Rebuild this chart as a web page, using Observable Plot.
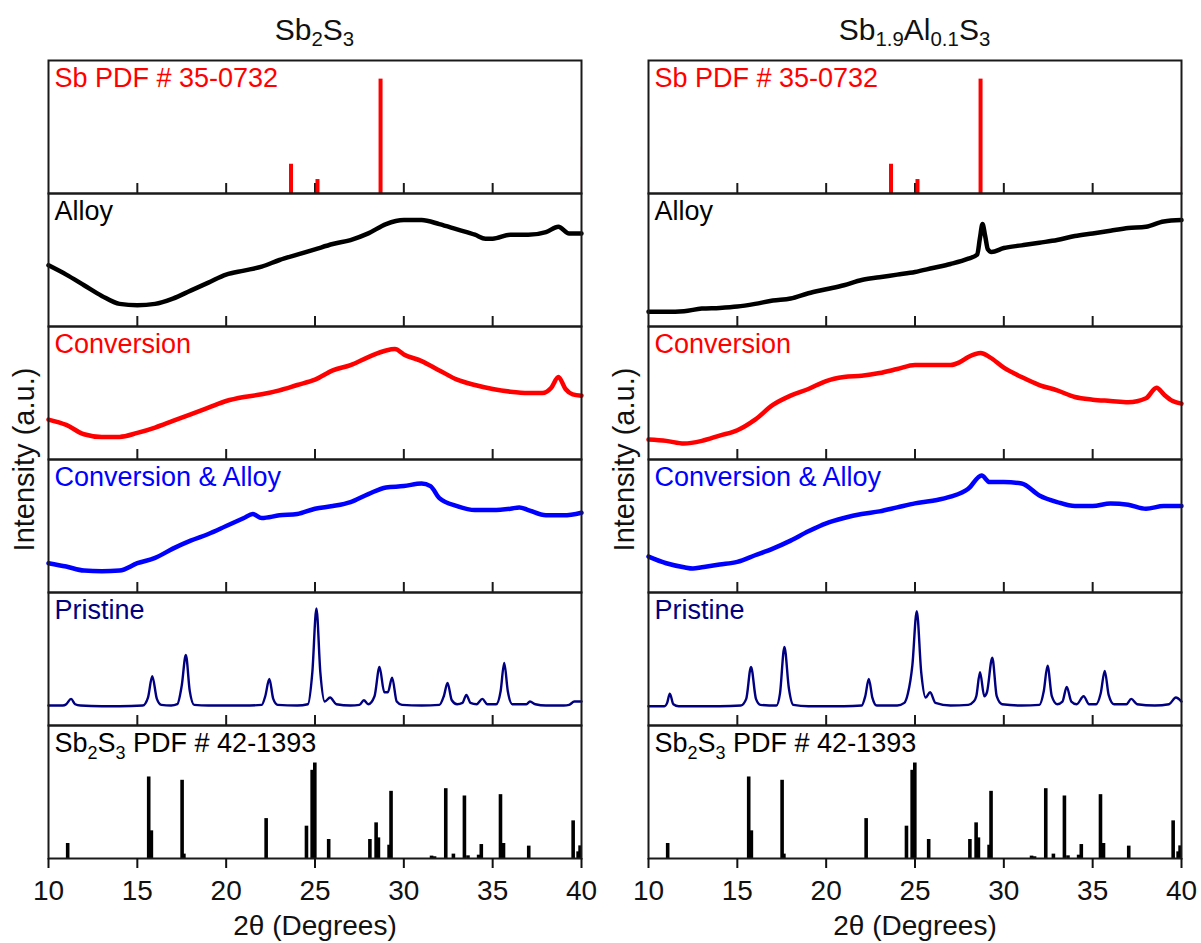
<!DOCTYPE html>
<html>
<head>
<meta charset="utf-8">
<script src="https://cdn.jsdelivr.net/npm/d3@7"></script>
<script src="https://cdn.jsdelivr.net/npm/@observablehq/plot@0.6"></script>
<style>
  body { margin: 0; background: #fff; font-family: "Liberation Sans", Arial, sans-serif; }
  #wrap { position: relative; width: 1201px; height: 943px; overflow: hidden; }
  .col { position: absolute; top: 0; width: 600px; height: 943px; }
  .title { position: absolute; left: 48px; width: 533px; top: 14px; text-align: center;
           font-size: 30px; line-height: 32px; color: #111; }
  .title sub { font-size: 0.68em; vertical-align: -0.3em; line-height: 0; }
  .col svg { position: absolute; top: 50px; left: 0; }
</style>
</head>
<body>
<div id="wrap"></div>
<script>
// ---------------- data ----------------
const degTicks = [10, 15, 20, 25, 30, 35, 40];
const innerTicks = [15, 20, 25, 30, 35];
const panels = ["sbpdf", "alloy", "conversion", "convalloy", "pristine", "sb2s3pdf"];
const panelLabels = ["Sb PDF # 35-0732", "Alloy", "Conversion", "Conversion & Alloy", "Pristine", "Sb2S3 PDF # 42-1393"];
const panelColors = ["#ff0000", "#000000", "#ff0000", "#0000ff", "#000080", "#000000"];
const columnTitles = ["Sb<sub>2</sub>S<sub>3</sub>", "Sb<sub>1.9</sub>Al<sub>0.1</sub>S<sub>3</sub>"];

// reference patterns (relative intensity, % of panel height)
const sbPdfTheta = [23.65, 25.14, 28.69, 40.08];
const sbPdfInt = [22, 10.5, 86, 35];
const sb2s3PdfTheta = [11.08, 15.64, 15.79, 17.52, 17.62, 22.25, 24.52, 24.84, 24.99, 25.77, 28.09, 28.44, 28.57, 29.17, 29.28,
  31.56, 31.73, 32.36, 32.79, 33.41, 33.61, 34.21, 34.36, 35.44, 35.61, 37.03, 39.53, 39.81, 39.92];
const sb2s3PdfInt = [11.3, 61.3, 20.8, 58.8, 3.3, 30, 24.3, 66.3, 71.8, 14.3, 14.3, 26.8, 15.5, 10, 50.5,
  1.8, 1.3, 52.5, 3.3, 47, 2, 2.5, 10.5, 48, 11.3, 9.3, 28.3, 5, 9.5];

// Sb2S3 column (2θ, intensity as % of panel height)
const leftAlloy = [[10,46],[11,39],[12,31],[13,23],[14,17],[15,16],[16,17],[17,21],[18,27],[19,33],[20,39],[21,42],[22,45],[23,50],
  [24,54],[25,58],[26,62],[27,65],[28,70],[29,77],[30,80],[31,80],[32,77],[33,73],[34,69],[34.6,66],[35,66],[36,69],[37,69],[38,71],[38.7,75],[39.3,70],[40,70]];
const leftConversion = [[10,30],[11,26],[12,19],[13,17],[14,17],[15,20],[16,24],[17,29],[18,34],[19,39],[20,44],[21,47],[22,49],[23,52],
  [24,56],[25,60],[26,67],[27,71],[28,77],[29,82],[29.5,83],[30,79],[31,74],[32,67],[33,60],[34,56],[35,53],[36,51],[37,50],[37.8,50],
  [38.3,54],[38.7,62],[39.1,53],[39.5,49],[40,48]];
const leftConvAlloy = [[10,22],[11,19.5],[12,16.5],[13,16],[14,16.5],[15,22],[16,26],[17,33],[18,39],[19,44],[20,50],[21,56],[21.5,59],
  [22,56],[23,58],[24,59],[25,63],[26,65],[27,68],[28,74],[29,79],[30,80],[31,82],[31.5,80],[32,71],[33,65],[34,62],[35,62],[36,63],
  [36.5,64],[37,62],[38,58],[39,58],[40,60]];
const leftPristine = [[10,15],[10.8,15],[11.0,16],[11.27,20],[11.5,16],[11.8,15],[13,14.5],[14,14.5],[15.3,15],[15.6,21],[15.84,37],
  [16.1,20],[16.35,15.5],[16.9,15],[17.25,16],[17.5,30],[17.73,53],[17.95,26],[18.2,15.5],[19,15],[20,15],[21,15],[22.0,15.5],[22.2,22],
  [22.43,35],[22.65,20],[22.9,15.5],[24,15],[24.6,16],[24.85,40],[25.08,88],[25.3,40],[25.55,18],[25.85,21],[26.2,16],[27,15],[27.5,15.5],
  [27.75,19],[28.0,16],[28.35,22],[28.63,44],[28.9,25],[29.1,25],[29.34,36],[29.6,18],[29.9,15.5],[31,15],[32.0,15.5],[32.25,22],
  [32.46,32],[32.7,19],[33.0,16],[33.3,17],[33.52,23],[33.75,17],[34.1,16],[34.42,20],[34.7,16],[35.2,16],[35.45,26],[35.65,47],
  [35.85,26],[36.1,16],[36.9,16],[37.1,18],[37.4,16],[38,15],[39,15],[39.3,15.5],[39.6,18],[40,18]];

// Sb1.9Al0.1S3 column
const rightAlloy = [[10,11],[11,11],[12,11.5],[13,13.5],[14,14],[15,15],[16,17],[17,19.5],[18,21],[19,25],[20,28],[21,31],[22,35],
  [23,37],[24,39],[25,41],[26,44],[27,47],[28,51],[28.5,54],[28.65,66],[28.8,77],[28.95,68],[29.1,58],[29.3,56],[30,59],[31,61],[32,63],
  [33,65],[34,68],[35,70],[36,72],[37,74],[38,75],[39,79],[40,80]];
const rightConversion = [[10,15],[11,14],[12,12],[13,14],[14,18],[15,22],[16,30],[17,41],[18,48],[19,53],[20,59],[21,62],[22,63],
  [23,65],[24,68],[25,71],[26,71],[27,71],[27.5,73],[28,77],[28.7,80],[29.2,77],[30,69],[31,62],[32,56],[33,52],[34,47],[35,45],[36,44],
  [37,43],[38,46],[38.6,54],[39,49],[39.5,44],[40,42]];
const rightConvAlloy = [[10,27],[11,22],[12,19],[12.5,18],[13,19],[14,21],[15,23],[16,28],[17,33],[18,39],[19,46],[20,52],[21,56],
  [22,59],[23,61],[24,64],[25,67],[26,69],[27,72],[28,78],[28.75,88],[29.2,83],[30,83],[31,82],[32,73],[33,68],[34,65],[35,65],[36,67],
  [37,66],[38,63],[39,65],[40,65]];
const rightPristine = [[10,14.5],[10.9,14.5],[11.05,17],[11.2,24],[11.4,16],[11.7,14.5],[13,14.5],[14,14.5],[15.2,15],[15.5,20],
  [15.77,44],[16.05,20],[16.3,15.5],[17.2,15],[17.4,24],[17.65,59],[17.9,28],[18.15,15.5],[19,14.5],[20,14.5],[21,14.5],[22.0,15],
  [22.2,22],[22.4,35],[22.6,21],[22.85,15],[24,15],[24.4,17],[24.6,24],[24.85,45],[25.1,86],[25.35,40],[25.6,21],[25.85,25],[26.15,17],
  [27,15],[28.0,15.5],[28.3,18],[28.45,22],[28.66,40],[28.9,22],[29.05,25],[29.35,51],[29.6,22],[29.9,16],[31,15],[32.0,15.5],[32.25,26],
  [32.46,45],[32.7,22],[33.0,16],[33.3,18],[33.54,29],[33.8,18],[34.1,16],[34.49,22],[34.8,16],[35.2,16],[35.45,24],[35.68,41],[35.9,23],
  [36.2,16],[36.9,16],[37.17,20],[37.5,16],[38.5,15],[39.3,16],[39.68,21],[40,18]];

const columns = [
  {title: columnTitles[0], series: [leftAlloy, leftConversion, leftConvAlloy, leftPristine]},
  {title: columnTitles[1], series: [rightAlloy, rightConversion, rightConvAlloy, rightPristine]}
];

// ---------------- drawing ----------------
const FONT = '"Liberation Sans", Arial, sans-serif';

function makeColumn(col) {
  const sbPdf = sbPdfTheta.map((t, i) => ({panel: panels[0], x: t, h: sbPdfInt[i]}));
  const sb2s3Pdf = sb2s3PdfTheta.map((t, i) => ({panel: panels[5], x: t, h: sb2s3PdfInt[i]}));
  const labels = panels.map((p, i) => ({panel: p, label: panelLabels[i], color: panelColors[i]}));
  const inTicks = panels.slice(0, 5).flatMap(p => innerTicks.map(t => ({panel: p, x: t})));
  const lineMarks = col.series.map((s, i) => {
    const panel = panels[i + 1];
    const data = s.map(([x, y]) => ({panel, x, y}));
    return Plot.line(data, {x: "x", y: "y", fy: "panel", stroke: panelColors[i + 1],
      strokeWidth: panel === "pristine" ? 2.4 : 4.5, strokeLinejoin: "round", curve: "monotone-x"});
  });

  return Plot.plot({
    width: 600, height: 893,
    marginTop: 9, marginBottom: 85, marginLeft: 48, marginRight: 19,
    style: {fontFamily: FONT, fontSize: "28px", color: "#111", background: "#fff"},
    x: {domain: [10, 40]},
    y: {domain: [0, 100], axis: null},
    fy: {domain: panels, padding: 0},
    color: {type: "identity"},
    marks: [
      Plot.ruleX(inTicks, {x: "x", fy: "panel", y1: 0, y2: 7.5, stroke: "#1a1a1a", strokeWidth: 2}),
      Plot.ruleX(sbPdf, {x: "x", y1: 0, y2: "h", fy: "panel", stroke: "#ff0000", strokeWidth: 4, clip: true}),
      Plot.ruleX(sb2s3Pdf, {x: "x", y1: 0, y2: "h", fy: "panel", stroke: "#000", strokeWidth: 3.6, clip: true}),
      ...lineMarks,
      Plot.text(labels, {fy: "panel", text: "label", fill: "color", frameAnchor: "top-left",
        dx: 6, dy: 7, lineAnchor: "top", textAnchor: "start", fontSize: 27}),
      Plot.frame({stroke: "#1a1a1a", strokeWidth: 2}),
      Plot.axisX({anchor: "bottom", ticks: degTicks, tickSize: 10, tickPadding: 12, fontSize: 28,
        strokeWidth: 2, label: "2θ (Degrees)", labelAnchor: "center", labelOffset: 76, labelArrow: "none"}),
      Plot.axisFy({anchor: "left", tickSize: 0, tickFormat: () => "", label: "Intensity (a.u.)",
        labelAnchor: "center", labelOffset: 35, fontSize: 29})
    ]
  });
}

function subscriptify(svg) {
  svg.querySelectorAll("text").forEach(t => {
    if (t.textContent === "Sb2S3 PDF # 42-1393") {
      const parts = [["Sb", false], ["2", true], ["S", false], ["3", true], [" PDF # 42-1393", false]];
      const target = t.querySelector("tspan") || t;
      while (target.firstChild) target.removeChild(target.firstChild);
      const ns = "http://www.w3.org/2000/svg";
      let shifted = false;
      parts.forEach(([s, sub]) => {
        const ts = document.createElementNS(ns, "tspan");
        ts.textContent = s;
        if (sub && !shifted) { ts.setAttribute("dy", "7"); shifted = true; }
        else if (!sub && shifted) { ts.setAttribute("dy", "-7"); shifted = false; }
        if (sub) ts.setAttribute("font-size", "18");
        target.appendChild(ts);
      });
    }
  });
}

const wrap = document.getElementById("wrap");
columns.forEach((col, i) => {
  const div = document.createElement("div");
  div.className = "col";
  div.style.left = (i * 600) + "px";
  const title = document.createElement("div");
  title.className = "title";
  title.innerHTML = col.title;
  div.appendChild(title);
  const svg = makeColumn(col);
  subscriptify(svg);
  div.appendChild(svg);
  wrap.appendChild(div);
});
</script>
</body>
</html>
